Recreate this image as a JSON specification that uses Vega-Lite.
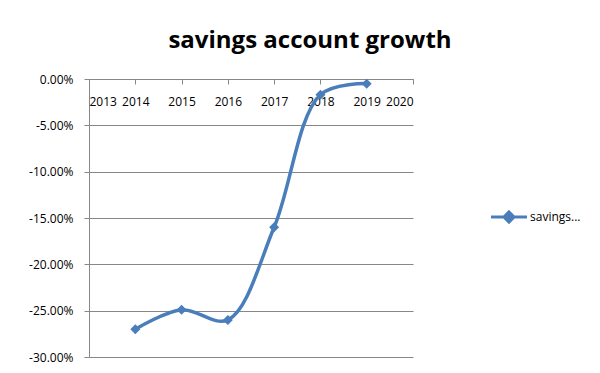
{
  "$schema": "https://vega.github.io/schema/vega-lite/v6.json",
  "width": 324,
  "height": 278,
  "autosize": {"type": "none"},
  "padding": {"left": 89, "top": 79, "right": 187, "bottom": 16},
  "background": "white",
  "title": {
    "text": "savings account growth",
    "font": "Open Sans",
    "fontSize": 24,
    "fontWeight": "bold",
    "color": "#000000",
    "anchor": "middle",
    "dx": 59,
    "offset": 20
  },
  "data": {
    "values": [
      {"year": 2014, "growth": -0.27, "series": "savings account growth"},
      {"year": 2015, "growth": -0.249, "series": "savings account growth"},
      {"year": 2016, "growth": -0.26, "series": "savings account growth"},
      {"year": 2017, "growth": -0.16, "series": "savings account growth"},
      {"year": 2018, "growth": -0.017, "series": "savings account growth"},
      {"year": 2019, "growth": -0.005, "series": "savings account growth"}
    ]
  },
  "mark": {
    "type": "line",
    "interpolate": "catmull-rom",
    "strokeWidth": 3.5,
    "point": {"shape": "diamond", "size": 100, "filled": true, "opacity": 1}
  },
  "encoding": {
    "x": {
      "field": "year",
      "type": "quantitative",
      "scale": {"domain": [2013, 2020], "nice": false, "zero": false},
      "axis": {
        "title": null,
        "orient": "bottom",
        "offset": -278,
        "values": [2013, 2014, 2015, 2016, 2017, 2018, 2019, 2020],
        "format": "d",
        "grid": false,
        "domainColor": "#878787",
        "tickColor": "#878787",
        "tickSize": 5,
        "labelPadding": 12,
        "labelFont": "Open Sans",
        "labelFontSize": 12,
        "labelColor": "#000000"
      }
    },
    "y": {
      "field": "growth",
      "type": "quantitative",
      "scale": {"domain": [-0.3, 0], "nice": false, "zero": false},
      "axis": {
        "title": null,
        "values": [-0.3, -0.25, -0.2, -0.15, -0.1, -0.05, 0],
        "format": ".2%",
        "labelExpr": "replace(datum.label, '\u2212', '-')",
        "grid": true,
        "gridColor": "#878787",
        "gridWidth": 1,
        "domainColor": "#878787",
        "tickColor": "#878787",
        "tickSize": 5,
        "labelPadding": 11,
        "labelFont": "Open Sans",
        "labelFontSize": 12,
        "labelColor": "#000000"
      }
    },
    "color": {
      "field": "series",
      "type": "nominal",
      "scale": {"range": ["#4A7EBB"]},
      "legend": {
        "title": null,
        "orient": "none",
        "legendX": 400,
        "legendY": 118,
        "labelExpr": "slice(datum.label, 0, 7) + '...'",
        "labelFont": "Open Sans",
        "labelFontSize": 12,
        "labelColor": "#000000",
        "symbolType": "M-1,0H1M0,-0.28L0.28,0L0,0.28L-0.28,0Z",
        "symbolSize": 1300,
        "symbolStrokeWidth": 3,
        "symbolFillColor": "#4A7EBB",
        "symbolStrokeColor": "#4A7EBB",
        "labelOffset": 1
      }
    }
  },
  "config": {
    "view": {"stroke": null}
  }
}
